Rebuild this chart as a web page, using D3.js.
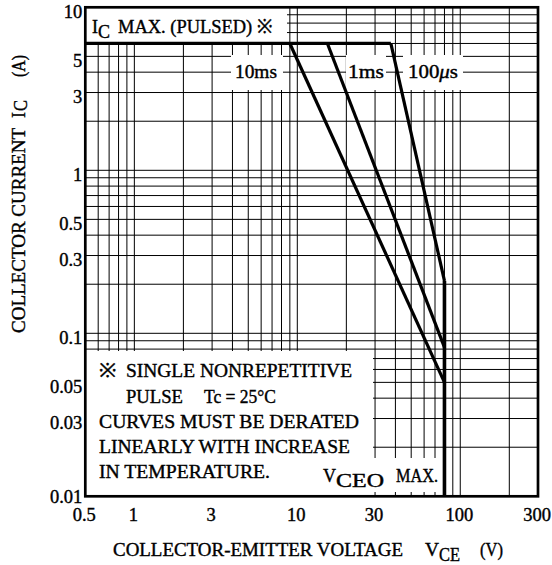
<!DOCTYPE html>
<html>
<head>
<meta charset="utf-8">
<script src="https://cdn.jsdelivr.net/npm/d3@7"></script>
<style>
  body { margin: 0; background: #fff; }
  svg text { font-family: "Liberation Serif", "Times New Roman", serif; fill: #000; stroke: #000; stroke-width: 0.4px; }
</style>
</head>
<body>
<div id="chart"></div>
<script>
// values
const xTickValues = [0.5, 1, 3, 10, 30, 100, 300];
const xTickLabels = ["0.5", "1", "3", "10", "30", "100", "300"];
const yTickValues = [0.01, 0.03, 0.05, 0.1, 0.3, 0.5, 1, 3, 5, 10];
const yTickLabels = ["0.01", "0.03", "0.05", "0.1", "0.3", "0.5", "1", "3", "5", "10"];

const pulseNames = ["10ms", "1ms", "100μs"];
const pulseStartV = [9.0, 15.3, 37.5];   // VCE where each curve leaves IC max
const pulseEndIc = [0.05, 0.082, 0.21];  // IC where each curve meets VCEO max
const icMaxPulsed = 6;
const vceoMax = 80;

const width = 552, height = 565;
const plot = {left: 85.3, right: 538, top: 7.3, bottom: 496.3};

const svg = d3.select("#chart")
  .append("svg")
  .attr("width", width)
  .attr("height", height);

const x = d3.scaleLog().domain([0.5, 300]).range([plot.left, plot.right]);
const y = d3.scaleLog().domain([0.01, 10]).range([plot.bottom, plot.top]);

// grid
svg.append("g").selectAll("line")
  .data(x.ticks())
  .join("line")
  .attr("x1", d => x(d)).attr("x2", d => x(d))
  .attr("y1", plot.top).attr("y2", plot.bottom)
  .attr("stroke", "#000").attr("stroke-width", 1);

svg.append("g").selectAll("line")
  .data(y.ticks())
  .join("line")
  .attr("y1", d => y(d)).attr("y2", d => y(d))
  .attr("x1", plot.left).attr("x2", plot.right)
  .attr("stroke", "#000").attr("stroke-width", 1);

// white areas behind the annotations
const masks = [
  [85, 7, 287, 43.5],
  [231, 55, 283, 90],
  [346, 55, 386, 90],
  [403, 55, 463, 90],
  [85, 351, 373, 497],
  [85, 458, 441, 492]
];
svg.append("g").selectAll("rect")
  .data(masks)
  .join("rect")
  .attr("x", d => d[0]).attr("y", d => d[1])
  .attr("width", d => d[2] - d[0]).attr("height", d => d[3] - d[1])
  .attr("fill", "#fff");

// curves
const line = d3.line().x(d => x(d[0])).y(d => y(d[1]));
const curves = svg.append("g")
  .attr("fill", "none").attr("stroke", "#000");

curves.append("path")
  .attr("d", line([[0.5, icMaxPulsed], [d3.max(pulseStartV), icMaxPulsed]]))
  .attr("stroke-width", 3.2);

pulseNames.forEach((name, i) => {
  curves.append("path")
    .attr("d", line([[pulseStartV[i], icMaxPulsed], [vceoMax, pulseEndIc[i]]]))
    .attr("stroke-width", 3.2);
});

curves.append("path")
  .attr("d", line([[vceoMax, d3.max(pulseEndIc)], [vceoMax, 0.01]]))
  .attr("stroke-width", 3.6);

// frame
svg.append("rect")
  .attr("x", plot.left).attr("y", plot.top)
  .attr("width", plot.right - plot.left).attr("height", plot.bottom - plot.top)
  .attr("fill", "none").attr("stroke", "#000").attr("stroke-width", 2.7);

// axes
const xAxis = svg.append("g")
  .attr("transform", `translate(0,${plot.bottom})`)
  .call(d3.axisBottom(x).tickValues(xTickValues).tickFormat((d, i) => xTickLabels[i]).tickSize(0));
xAxis.select(".domain").remove();
xAxis.selectAll("text")
  .attr("font-family", "Liberation Serif").attr("font-size", 18.5)
  .attr("fill", "#000").attr("x", -1.5).attr("y", 24.5).attr("dy", 0);

const yAxis = svg.append("g")
  .attr("transform", `translate(${plot.left},0)`)
  .call(d3.axisLeft(y).tickValues(yTickValues).tickFormat((d, i) => yTickLabels[i]).tickSize(0));
yAxis.select(".domain").remove();
yAxis.selectAll("text")
  .attr("font-family", "Liberation Serif").attr("font-size", 18.5)
  .attr("fill", "#000").attr("x", -3).attr("y", d => d === 0.01 ? 6 : 9.8).attr("dy", 0);

// text helper
function label(parent, txt, px, py, size, len) {
  const t = parent.append("text").attr("x", px).attr("y", py)
    .attr("font-size", size).text(txt);
  if (len) t.attr("textLength", len).attr("lengthAdjust", "spacingAndGlyphs");
  return t;
}

// axis titles
label(svg, "COLLECTOR-EMITTER VOLTAGE", 113, 556, 19.5, 290);
label(svg, "V", 425, 556, 19.5, 14);
label(svg, "CE", 439, 561, 19, 21);
label(svg, "(V)", 480, 556, 19.5, 23);

const yTitle = svg.append("g").attr("transform", "translate(25,0) rotate(-90)");
label(yTitle, "COLLECTOR CURRENT", -333, 0, 19.5, 205);
label(yTitle, "I", -118, 0, 19.5, 6);
label(yTitle, "C", -111, 2, 19, 11);
label(yTitle, "(A)", -77, 0, 19.5, 22);

// IC max label
label(svg, "I", 92, 33, 19.5, 6);
label(svg, "C", 98, 38, 19, 12);
label(svg, "MAX. (PULSED) ※", 118, 33, 19.5, 154);

// pulse width labels
label(svg, pulseNames[0], 235, 78.3, 19, 42);
label(svg, pulseNames[1], 348, 78.3, 19, 36);
const us = label(svg, "100", 408, 78.3, 19);
us.append("tspan").attr("font-style", "italic").text("μ");
us.append("tspan").text("s");
us.attr("textLength", 50).attr("lengthAdjust", "spacingAndGlyphs");

// note
label(svg, "※", 99, 377, 19.5, 17);
label(svg, "SINGLE NONREPETITIVE", 126, 377, 19.5, 226);
label(svg, "PULSE", 126, 403, 19.5, 57);
label(svg, "Tc = 25°C", 204, 403, 19.5, 72);
label(svg, "CURVES MUST BE DERATED", 99, 428, 19.5, 260);
label(svg, "LINEARLY WITH INCREASE", 99, 453, 19.5, 251);
label(svg, "IN TEMPERATURE.", 99, 478, 19.5, 171);

// VCEO label
label(svg, "V", 323, 482, 19.5, 13);
label(svg, "CEO", 336, 487, 18, 48);
label(svg, "MAX.", 396, 482, 19.5, 42);
</script>
</body>
</html>
